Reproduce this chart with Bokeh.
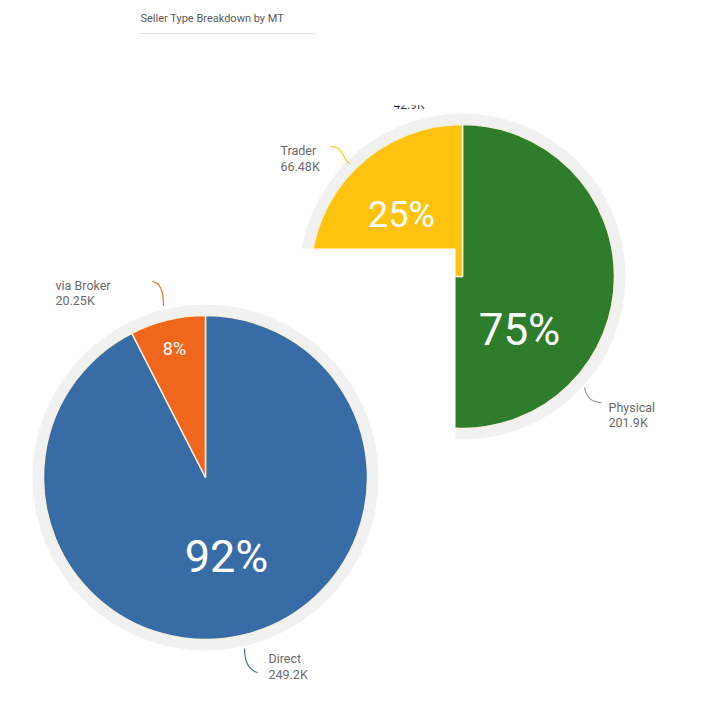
import math
from bokeh.plotting import figure
from bokeh.models import Range1d
from bokeh.core.properties import value
from bokeh.embed import file_html
from bokeh.resources import INLINE

# ---- data ----
title_text = "Seller Type Breakdown by MT"
mt_labels = ["Physical", "Trader"]
mt_values = [201.9, 66.48]          # K
mt_colors = ["#2e7d2c", "#fdc30e"]
seller_labels = ["Direct", "via Broker"]
seller_values = [249.2, 20.25]      # K
seller_colors = ["#376ca7", "#f1661d"]

W, H = 710, 714
def Y(y):
    return H - y

p = figure(width=W, height=H, x_range=Range1d(0, W), y_range=Range1d(0, H),
           x_axis_type=None, y_axis_type=None, toolbar_location=None,
           output_backend="svg", min_border=0)
p.outline_line_color = None
p.grid.visible = False
p.background_fill_color = "white"

FONT = value("Roboto")
PFONT = value("Roboto")
LBL = "#6b6b6b"

def pie(cx, cy, r, vals, cols):
    total = sum(vals)
    p.annulus(x=[cx], y=[Y(cy)], inner_radius=r, outer_radius=r + 11,
              fill_color="#f1f1f1", line_color=None)
    starts, ends, pcts = [], [], []
    c = 0.0
    for v in vals:
        s = c / total
        c += v
        e = c / total
        starts.append(math.pi / 2 - s * 2 * math.pi)
        ends.append(math.pi / 2 - e * 2 * math.pi)
        pcts.append(round(v / total * 100))
    p.wedge(x=[cx] * len(vals), y=[Y(cy)] * len(vals), radius=r,
            start_angle=starts, end_angle=ends, direction="clock",
            fill_color=cols, line_color="#f4f0dc", line_width=1.5)
    return pcts

# right pie (MT)
rcx, rcy, rr = 462, 276, 152
# partially cut-off label at top
p.text(x=[393], y=[Y(104)], text=["42.9K"], text_font=FONT, text_font_size="12px",
       text_color="#333333", text_baseline="middle")
p.quad(left=[250], right=[710], bottom=[Y(105)], top=[Y(45)], fill_color="white", line_color=None)
mt_pcts = pie(rcx, rcy, rr, mt_values, mt_colors)
p.text(x=[519], y=[Y(329)], text=[f"{mt_pcts[0]}%"], text_font=PFONT, text_font_size="44px",
       text_color="white", text_align="center", text_baseline="middle")
p.text(x=[401], y=[Y(214)], text=[f"{mt_pcts[1]}%"], text_font=PFONT, text_font_size="36px",
       text_color="white", text_align="center", text_baseline="middle")
# leader lines + labels (right)
p.bezier(x0=[330], y0=[Y(146)], x1=[350], y1=[Y(163)], cx0=[345], cy0=[Y(146)], cx1=[342], cy1=[Y(162)],
         line_color="#fdc30e", line_width=1.2)
p.bezier(x0=[584], y0=[Y(387)], x1=[601], y1=[Y(402)], cx0=[586], cy0=[Y(398)], cx1=[592], cy1=[Y(402)],
         line_color="#8a9a8a", line_width=1.2)
p.text(x=[280, 280], y=[Y(150), Y(166)], text=[mt_labels[1], f"{mt_values[1]:.2f}K"],
       text_font=FONT, text_font_size="12.5px", text_color=LBL, text_baseline="middle")
p.text(x=[608, 608], y=[Y(407), Y(422)], text=[mt_labels[0], f"{mt_values[0]:.1f}K"],
       text_font=FONT, text_font_size="12.5px", text_color=LBL, text_baseline="middle")

# white panel of the second chart
p.quad(left=[0], right=[455], bottom=[0], top=[Y(248)], fill_color="white", line_color=None)

# left pie (seller)
lcx, lcy, lr = 205, 477, 162
s_pcts = pie(lcx, lcy, lr, seller_values, seller_colors)
p.text(x=[226], y=[Y(556)], text=[f"{s_pcts[0]}%"], text_font=PFONT, text_font_size="45px",
       text_color="white", text_align="center", text_baseline="middle")
p.text(x=[174], y=[Y(348)], text=[f"{s_pcts[1]}%"], text_font=PFONT, text_font_size="18px",
       text_color="white", text_align="center", text_baseline="middle")
p.bezier(x0=[152], y0=[Y(281)], x1=[163], y1=[Y(305)], cx0=[160], cy0=[Y(282)], cx1=[163], cy1=[Y(292)],
         line_color="#f1661d", line_width=1.2)
p.bezier(x0=[244], y0=[Y(648)], x1=[257], y1=[Y(672)], cx0=[244], cy0=[Y(664)], cx1=[250], cy1=[Y(670)],
         line_color="#4d6c8f", line_width=1.2)
p.text(x=[55, 55], y=[Y(285), Y(300)], text=[seller_labels[1], f"{seller_values[1]:.2f}K"],
       text_font=FONT, text_font_size="12.5px", text_color=LBL, text_baseline="middle")
p.text(x=[268, 268], y=[Y(658), Y(674)], text=[seller_labels[0], f"{seller_values[0]:.1f}K"],
       text_font=FONT, text_font_size="12.5px", text_color=LBL, text_baseline="middle")

# title
p.text(x=[140], y=[Y(18)], text=[title_text], text_font=FONT, text_font_size="11px",
       text_color="#5a5a5a", text_baseline="middle")
p.segment(x0=[138], y0=[Y(33)], x1=[315], y1=[Y(33)], line_color="#e4e4e4", line_width=1)

open("out.html", "w").write(file_html(p, INLINE))
